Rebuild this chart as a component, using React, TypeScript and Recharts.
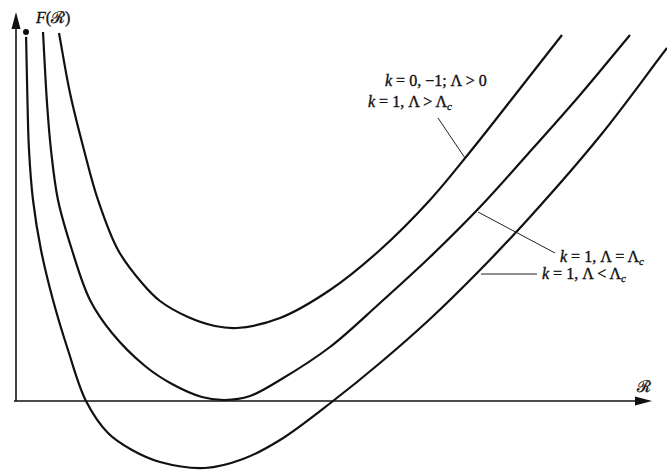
import { LineChart, Line, XAxis, YAxis, ReferenceLine, ReferenceDot } from 'recharts';

// Sample points read along each F(R) curve (R, F in plot units)
const rUpper = [0.43, 0.54, 0.68, 0.82, 1.02, 1.26, 1.44, 1.72, 1.99, 2.21, 2.64, 3.14, 3.64, 4.14, 4.54, 4.99, 5.46];
const fUpper = [3.68, 3.08, 2.51, 2.01, 1.51, 1.18, 1.0, 0.84, 0.75, 0.73, 0.83, 1.11, 1.51, 2.01, 2.49, 3.06, 3.66];

const rCritical = [0.27, 0.31, 0.35, 0.42, 0.56, 0.74, 0.96, 1.29, 1.56, 1.86, 2.09, 2.34, 2.64, 3.14, 3.64, 4.14, 4.64, 5.11, 5.64, 6.14];
const fCritical = [3.69, 2.98, 2.51, 2.01, 1.51, 1.01, 0.68, 0.35, 0.17, 0.04, 0.01, 0.05, 0.21, 0.54, 0.98, 1.44, 1.94, 2.46, 3.06, 3.66];

const rLower = [0.1, 0.115, 0.13, 0.17, 0.25, 0.37, 0.52, 0.7, 0.92, 1.16, 1.44, 1.89, 2.27, 2.64, 3.17, 3.64, 4.14, 4.64, 5.14, 5.84, 6.51];
const fLower = [3.69, 2.98, 2.51, 2.01, 1.51, 1.01, 0.51, 0.0, -0.32, -0.49, -0.61, -0.67, -0.58, -0.39, 0.0, 0.38, 0.82, 1.31, 1.84, 2.65, 3.53];

const toPoints = (rs: number[], fs: number[]) => rs.map((r, i) => ({ r, f: fs[i] }));

const upperCurve = toPoints(rUpper, fUpper);
const criticalCurve = toPoints(rCritical, fCritical);
const lowerCurve = toPoints(rLower, fLower);

const X_DOMAIN: [number, number] = [-0.16, 6.51];
const Y_DOMAIN: [number, number] = [-0.69, 4.01];

const FONT = '"Liberation Serif", "DejaVu Serif", serif';

// Centripetal Catmull-Rom in screen space: the curves run almost vertically
// near R = 0, so interpolating y as a function of x would overshoot there.
const centripetal = (context: any) => {
  let pts: number[][] = [];
  return {
    areaStart() {},
    areaEnd() {},
    lineStart() {
      pts = [];
    },
    point(x: number, y: number) {
      pts.push([+x, +y]);
    },
    lineEnd() {
      const n = pts.length;
      if (!n) return;
      context.moveTo(pts[0][0], pts[0][1]);
      const dist = (a: number[], b: number[]) => Math.hypot(b[0] - a[0], b[1] - a[1]);
      for (let i = 0; i < n - 1; i++) {
        const p0 = pts[Math.max(0, i - 1)];
        const p1 = pts[i];
        const p2 = pts[i + 1];
        const p3 = pts[Math.min(n - 1, i + 2)];
        const l01 = dist(p0, p1);
        const l12 = dist(p1, p2);
        const l23 = dist(p2, p3);
        const a01 = Math.sqrt(l01);
        const a12 = Math.sqrt(l12);
        const a23 = Math.sqrt(l23);
        // end segments take a tangent one third of the way along the chord
        let c1 = [p1[0] + (p2[0] - p1[0]) / 3, p1[1] + (p2[1] - p1[1]) / 3];
        let c2 = [p2[0] - (p2[0] - p1[0]) / 3, p2[1] - (p2[1] - p1[1]) / 3];
        if (a01 > 1e-6) {
          const a = 2 * l01 + 3 * a01 * a12 + l12;
          const m = 3 * a01 * (a01 + a12);
          c1 = [0, 1].map((k) => (p1[k] * a - p0[k] * l12 + p2[k] * l01) / m);
        }
        if (a23 > 1e-6) {
          const b = 2 * l23 + 3 * a23 * a12 + l12;
          const m = 3 * a23 * (a23 + a12);
          c2 = [0, 1].map((k) => (p2[k] * b + p1[k] * l23 - p3[k] * l12) / m);
        }
        context.bezierCurveTo(c1[0], c1[1], c2[0], c2[1], p2[0], p2[1]);
      }
    },
  };
};

const Arrow = (props: any) => {
  const { x1, y1, x2, y2 } = props;
  const len = Math.hypot(x2 - x1, y2 - y1) || 1;
  const ux = (x2 - x1) / len;
  const uy = (y2 - y1) / len;
  const head = 17;
  const half = 4.5;
  const bx = x2 - ux * head;
  const by = y2 - uy * head;
  const pts = `${x2},${y2} ${bx - uy * half},${by + ux * half} ${bx + uy * half},${by - ux * half}`;
  return (
    <g>
      <line x1={x1} y1={y1} x2={bx + ux * 2} y2={by + uy * 2} stroke="#111" strokeWidth={1.6} />
      <polygon points={pts} fill="#111" />
    </g>
  );
};

const Leader = (props: any) => (
  <line x1={props.x1} y1={props.y1} x2={props.x2} y2={props.y2} stroke="#222" strokeWidth={1} />
);

const Sub = ({ children }: { children: string }) => (
  <tspan fontStyle="italic" fontSize={11} dy={3}>{children}</tspan>
);

const textAt = (content: React.ReactNode) => (p: any) => (
  <text
    x={p.cx}
    y={p.cy}
    fontFamily={FONT}
    fontSize={16}
    fill="#111"
    stroke="#111"
    strokeWidth={0.35}
  >
    {content}
  </text>
);

const curveStyle = { stroke: '#111', strokeWidth: 2.2 };

export default function App() {
  return (
    <div style={{ position: 'absolute', left: 0, top: 0, background: '#fff' }}>
      <LineChart width={667} height={470} margin={{ top: 0, right: 0, bottom: 0, left: 0 }}>
        <XAxis type="number" dataKey="r" domain={X_DOMAIN} allowDataOverflow hide />
        <YAxis type="number" dataKey="f" domain={Y_DOMAIN} allowDataOverflow hide />

        {/* axes with arrowheads */}
        <ReferenceLine segment={[{ x: 0, y: 0 }, { x: 0, y: 3.89 }]} shape={Arrow} />
        <ReferenceLine segment={[{ x: -0.02, y: 0 }, { x: 6.36, y: 0 }]} shape={Arrow} />

        <Line data={upperCurve} dataKey="f" type={centripetal as any} {...curveStyle} dot={false} isAnimationActive={false} />
        <Line data={criticalCurve} dataKey="f" type={centripetal as any} {...curveStyle} dot={false} isAnimationActive={false} />
        <Line data={lowerCurve} dataKey="f" type={centripetal as any} {...curveStyle} dot={false} isAnimationActive={false} />

        {/* leader lines to the curve labels */}
        <ReferenceLine segment={[{ x: 4.22, y: 2.83 }, { x: 4.49, y: 2.43 }]} shape={Leader} />
        <ReferenceLine segment={[{ x: 4.62, y: 1.89 }, { x: 5.39, y: 1.48 }]} shape={Leader} />
        <ReferenceLine segment={[{ x: 4.65, y: 1.27 }, { x: 5.21, y: 1.27 }]} shape={Leader} />

        <ReferenceDot x={0.2} y={3.78} r={0} shape={textAt(
          <>
            <tspan fontStyle="italic">F</tspan>(ℛ)
          </>
        )} />
        <ReferenceDot x={6.21} y={0.09} r={0} shape={textAt(<>ℛ</>)} />

        <ReferenceDot x={3.69} y={3.15} r={0} shape={textAt(
          <>
            <tspan fontStyle="italic">k</tspan> = 0, −1; Λ &gt; 0
          </>
        )} />
        <ReferenceDot x={3.52} y={2.94} r={0} shape={textAt(
          <>
            <tspan fontStyle="italic">k</tspan> = 1, Λ &gt; Λ<Sub>c</Sub>
          </>
        )} />
        <ReferenceDot x={5.44} y={1.39} r={0} shape={textAt(
          <>
            <tspan fontStyle="italic">k</tspan> = 1, Λ = Λ<Sub>c</Sub>
          </>
        )} />
        <ReferenceDot x={5.26} y={1.22} r={0} shape={textAt(
          <>
            <tspan fontStyle="italic">k</tspan> = 1, Λ &lt; Λ<Sub>c</Sub>
          </>
        )} />
      </LineChart>
    </div>
  );
}
